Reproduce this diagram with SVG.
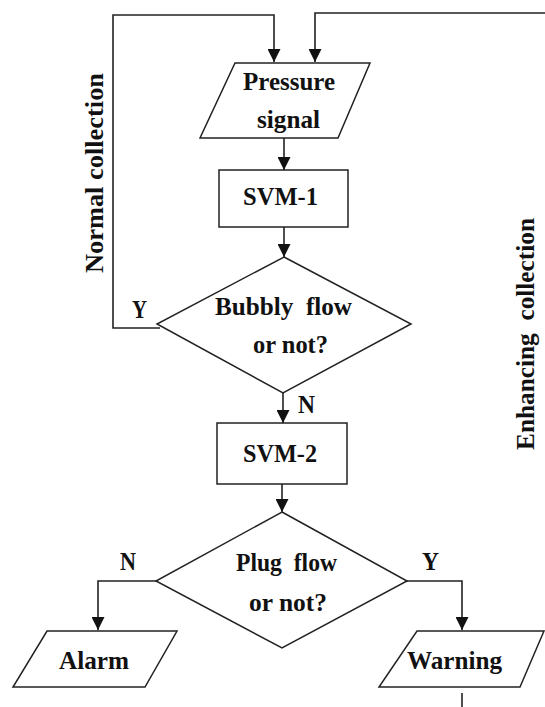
<svg xmlns="http://www.w3.org/2000/svg" width="545" height="707" viewBox="0 0 545 707">
<style>
.s{fill:#fff;stroke:#222;stroke-width:1.5}
.c{fill:none;stroke:#222;stroke-width:1.6}
.t{font-family:"Liberation Serif","Times New Roman",serif;font-weight:bold;font-size:25px;fill:#111}
</style>
<defs>
<marker id="ah" viewBox="0 0 10 10" refX="10" refY="5" markerWidth="13" markerHeight="13" markerUnits="userSpaceOnUse" orient="auto">
<path d="M0,0 L10,5 L0,10 Z" fill="#111"/>
</marker>
</defs>
<rect width="545" height="707" fill="#fff"/>
<g id="connectors">
<path class="c" d="M160,328 L113,328 L113,15 L274,15 L274,62" marker-end="url(#ah)"/>
<path class="c" d="M545,13 L315,13 L315,62" marker-end="url(#ah)"/>
<path class="c" d="M284,138 L284,170" marker-end="url(#ah)"/>
<path class="c" d="M284,227 L284,257" marker-end="url(#ah)"/>
<path class="c" d="M283,393 L283,423" marker-end="url(#ah)"/>
<path class="c" d="M282,484 L282,512" marker-end="url(#ah)"/>
<path class="c" d="M156,581 L98,581 L98,630" marker-end="url(#ah)"/>
<path class="c" d="M407,581 L462,581 L462,630" marker-end="url(#ah)"/>
<path class="c" d="M462,693 L462,707"/>
<text class="t" x="132" y="318" textLength="15" lengthAdjust="spacingAndGlyphs">Y</text>
<text class="t" x="298" y="413" textLength="17" lengthAdjust="spacingAndGlyphs">N</text>
<text class="t" x="120" y="570" textLength="16" lengthAdjust="spacingAndGlyphs">N</text>
<text class="t" x="422" y="570" textLength="17" lengthAdjust="spacingAndGlyphs">Y</text>
<text class="t" transform="translate(103,273) rotate(-90)" textLength="200" lengthAdjust="spacingAndGlyphs">Normal collection</text>
<text class="t" transform="translate(534,450) rotate(-90)" textLength="232" lengthAdjust="spacingAndGlyphs" xml:space="preserve">Enhancing  collection</text>
</g>
<g id="pressure">
<polygon class="s" points="235,63 370,63 338,138 200,138"/>
<text class="t" x="243" y="90" textLength="92" lengthAdjust="spacingAndGlyphs">Pressure</text>
<text class="t" x="257" y="128" textLength="63" lengthAdjust="spacingAndGlyphs">signal</text>
</g>
<g id="svm1">
<rect class="s" x="219" y="170" width="129" height="57"/>
<text class="t" x="243" y="205" textLength="75" lengthAdjust="spacingAndGlyphs">SVM-1</text>
</g>
<g id="bubbly">
<polygon class="s" points="284,257 411,324 283,393 157,324"/>
<text class="t" x="215" y="315" textLength="137" lengthAdjust="spacingAndGlyphs" xml:space="preserve">Bubbly  flow</text>
<text class="t" x="253" y="353" textLength="75" lengthAdjust="spacingAndGlyphs">or not?</text>
</g>
<g id="svm2">
<rect class="s" x="217" y="423" width="130" height="61"/>
<text class="t" x="243" y="462" textLength="74" lengthAdjust="spacingAndGlyphs">SVM-2</text>
</g>
<g id="plug">
<polygon class="s" points="282,512 407,581 282,648 156,581"/>
<text class="t" x="236" y="571" textLength="101" lengthAdjust="spacingAndGlyphs" xml:space="preserve">Plug  flow</text>
<text class="t" x="249" y="611" textLength="78" lengthAdjust="spacingAndGlyphs">or not?</text>
</g>
<g id="alarm">
<polygon class="s" points="47,631 177,631 145,687 13,687"/>
<text class="t" x="59" y="669" textLength="70" lengthAdjust="spacingAndGlyphs">Alarm</text>
</g>
<g id="warning">
<polygon class="s" points="417,631 544,631 520,687 379,687"/>
<text class="t" x="407" y="669" textLength="95" lengthAdjust="spacingAndGlyphs">Warning</text>
</g>
</svg>
